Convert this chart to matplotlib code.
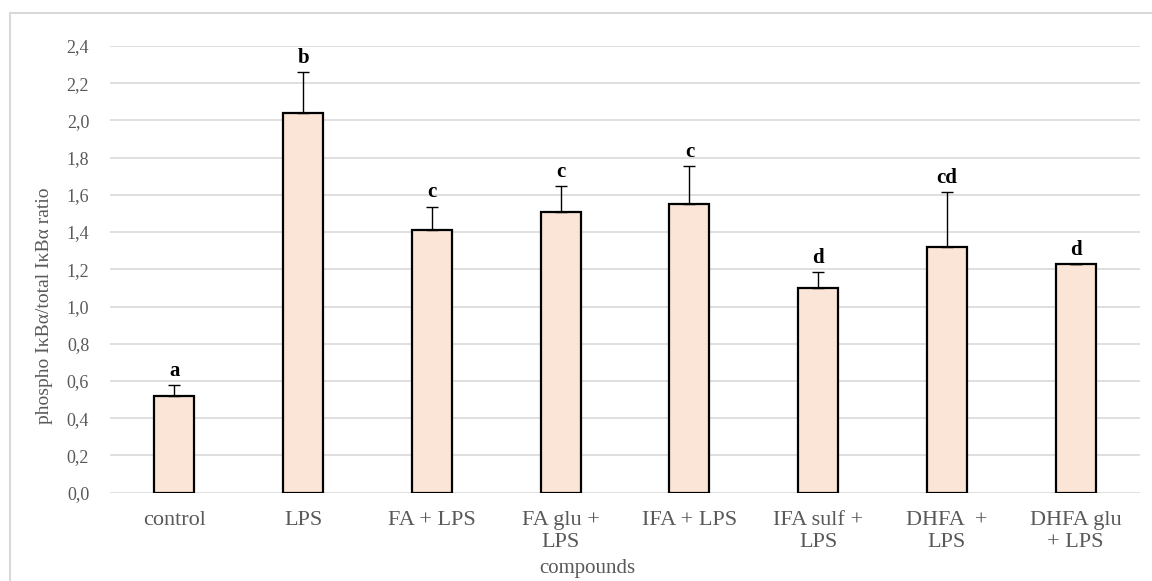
import matplotlib
matplotlib.use("Agg")
import matplotlib.pyplot as plt
from matplotlib.patches import Rectangle
import numpy as np

# Data
categories = ["control", "LPS", "FA + LPS", "FA glu +\nLPS", "IFA + LPS",
              "IFA sulf +\nLPS", "DHFA  +\nLPS", "DHFA glu\n+ LPS"]
means = [0.52, 2.04, 1.41, 1.51, 1.55, 1.10, 1.32, 1.23]
errors = [0.057, 0.22, 0.127, 0.136, 0.204, 0.086, 0.294, 0.0]
letters = ["a", "b", "c", "c", "c", "d", "cd", "d"]
yticks = [0.0, 0.2, 0.4, 0.6, 0.8, 1.0, 1.2, 1.4, 1.6, 1.8, 2.0, 2.2, 2.4]

plt.rcParams['font.family'] = ['Liberation Serif', 'DejaVu Serif']

fig = plt.figure(figsize=(11.52, 5.81), dpi=100)
ax = fig.add_axes([0.0955, 0.152, 0.8941, 0.769])

# outer frame of the chart area
frame = Rectangle((10 / 1152, -0.05), 1.2, 1 - 13 / 581 + 0.05,
                  transform=fig.transFigure, fill=False,
                  edgecolor="#d9d9d9", linewidth=1.5, zorder=0)
fig.patches.append(frame)

x = np.arange(len(categories))
ax.bar(x, means, width=0.31, color="#FBE5D6", edgecolor="black",
       linewidth=1.6, zorder=3)
ax.errorbar(x, means, yerr=[np.zeros(len(errors)), errors], fmt="none",
            ecolor="black", elinewidth=1.0, capsize=4, capthick=1.0, zorder=4)

for xi, m, e, lab in zip(x, means, errors, letters):
    ax.annotate(lab, (xi, m + e), xytext=(0, 3), textcoords="offset points",
                ha="center", va="bottom", fontsize=15, fontweight="bold",
                color="black")

ax.set_xlim(-0.5, len(categories) - 0.5)
ax.set_ylim(0, 2.4)
ax.set_yticks(yticks)
ax.set_yticklabels([f"{v:.1f}".replace(".", ",") for v in yticks],
                   fontsize=13, color="#595959")
ax.set_xticks(x)
ax.set_xticklabels(categories, fontsize=16, color="#595959",
                   linespacing=1.25)
ax.tick_params(axis="both", length=0)
ax.tick_params(axis="y", pad=15)
ax.tick_params(axis="x", pad=13)

ax.yaxis.grid(True, color="#d9d9d9", linewidth=1.2, zorder=0)
ax.set_axisbelow(True)
for s in ax.spines.values():
    s.set_visible(False)

ax.set_ylabel("phospho IκBα/total IκBα ratio", fontsize=14, color="#595959")
ax.yaxis.set_label_coords(-0.064, 0.418)
ax.yaxis.label.set_verticalalignment("center")
ax.set_xlabel("compounds", fontsize=15, color="#595959")
ax.xaxis.set_label_coords(0.463, -0.17)
ax.xaxis.label.set_verticalalignment("center")

fig.savefig("out.png", dpi=100, facecolor="white")
